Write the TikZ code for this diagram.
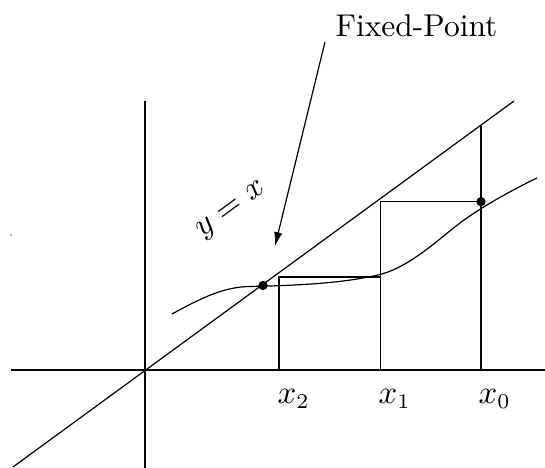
\documentclass[tikz,border=0pt]{standalone}
\usetikzlibrary{arrows.meta}
\begin{document}
\begin{tikzpicture}[x=0.33333pt,y=-0.33333pt,
  thinline/.style={line width=0.4pt,black},
  dotmark/.style={circle,fill=black,inner sep=0pt,minimum size=3.1pt},
  lbl/.style={inner sep=0pt,font=\fontsize{10.5}{12.5}\selectfont},
  xlabel/.style={lbl,anchor=base west}]
\useasboundingbox (0,0) rectangle (545,468);
% key coordinates
\coordinate (O) at (145,370);
\coordinate (haxL) at (11,370);
\coordinate (haxR) at (545,370);
\coordinate (vaxT) at (145,101);
\coordinate (vaxB) at (145,468);
\coordinate (diagL) at (13,467);
\coordinate (diagR) at (514,101);
\coordinate (x0b) at (481,370);
\coordinate (x0t) at (481,126);
\coordinate (x1b) at (380.5,370);
\coordinate (x1t) at (380.5,201.7);
\coordinate (x2b) at (279,370);
\coordinate (x2t) at (279,277);
\coordinate (astart) at (325,42);
\coordinate (atip) at (275,246);
% axes
\draw[thinline] (haxL) -- (haxR);
\draw[thinline] (vaxT) -- (vaxB);
% y = x line
\draw[thinline] (diagL) -- (diagR);
% curve
\draw[thinline] (172,314) .. controls (205,296) and (225,287) .. (250,286.5)
  .. controls (300,285.5) and (345,283) .. (380,274.5)
  .. controls (410,267) and (440,238) .. (460,223)
  .. controls (480,208) and (510,191) .. (537,178);
% cobweb
\draw[thinline] (x0b) -- (x0t);
\draw[thinline] (x1b) -- (x1t) -- (481,201.7);
\draw[thinline] (x2b) -- (x2t) -- (380.5,277);
% dots
\node[dotmark] (fp) at (263,285.5) {};
\node[dotmark] (d0) at (481,201.7) {};
\fill[black!60] (11,235) circle (0.8);
% labels
\node[xlabel] (lx2) at (277,404) {$x_2$};
\node[xlabel] (lx1) at (378,404) {$x_1$};
\node[xlabel] (lx0) at (478,404) {$x_0$};
\node[lbl,rotate=36.2] (lyx) at (232,211) {$y=x$};
\node[lbl] (lfp) at (416.5,26) {Fixed-Point};
\draw[thinline,-{Latex[length=4.6pt,width=2.8pt]}] (astart) -- (atip);
\end{tikzpicture}
\end{document}
